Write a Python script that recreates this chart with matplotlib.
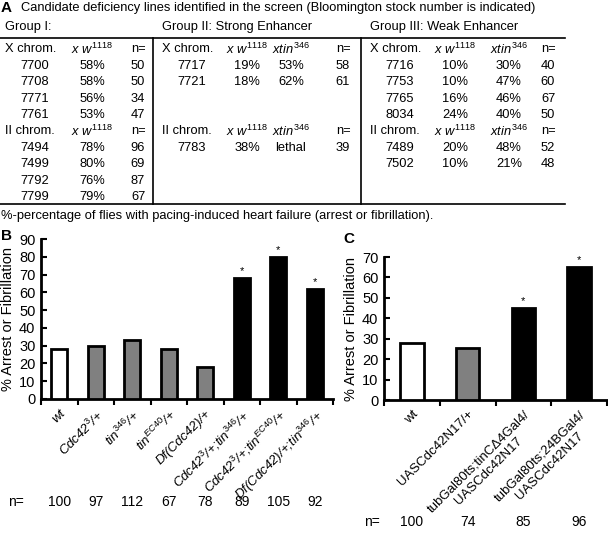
import matplotlib
matplotlib.use('Agg')
import matplotlib.pyplot as plt
import numpy as np

plt.rcParams['font.family'] = ['Liberation Sans', 'DejaVu Sans']
plt.rcParams['mathtext.fontset'] = 'custom'
plt.rcParams['mathtext.rm'] = 'Liberation Sans'
plt.rcParams['mathtext.it'] = 'Liberation Sans:italic'
plt.rcParams['mathtext.default'] = 'it'

W, H = 608, 534

# Table A data
g1_x_stock = ['7700', '7708', '7771', '7761']
g1_x_w = ['58%', '58%', '56%', '53%']
g1_x_n = ['50', '50', '34', '47']
g1_ii_stock = ['7494', '7499', '7792', '7799']
g1_ii_w = ['78%', '80%', '76%', '79%']
g1_ii_n = ['96', '69', '87', '67']

g2_x_stock = ['7717', '7721']
g2_x_w = ['19%', '18%']
g2_x_tin = ['53%', '62%']
g2_x_n = ['58', '61']
g2_ii_stock = ['7783']
g2_ii_w = ['38%']
g2_ii_tin = ['lethal']
g2_ii_n = ['39']

g3_x_stock = ['7716', '7753', '7765', '8034']
g3_x_w = ['10%', '10%', '16%', '24%']
g3_x_tin = ['30%', '47%', '46%', '40%']
g3_x_n = ['40', '60', '67', '50']
g3_ii_stock = ['7489', '7502']
g3_ii_w = ['20%', '10%']
g3_ii_tin = ['48%', '21%']
g3_ii_n = ['52', '48']

# Panel B data
b_labels = ['wt', 'Cdc42$^3$/+', 'tin$^{346}$/+', 'tin$^{EC40}$/+', 'Df(Cdc42)/+',
            'Cdc42$^3$/+;tin$^{346}$/+', 'Cdc42$^3$/+;tin$^{EC40}$/+', 'Df(Cdc42)/+;tin$^{346}$/+']
b_values = [28, 30, 33, 28, 18, 68, 80, 62]
b_colors = ['white', 'gray', 'gray', 'gray', 'gray', 'black', 'black', 'black']
b_signif = [False, False, False, False, False, True, True, True]
b_n = [100, 97, 112, 67, 78, 89, 105, 92]

# Panel C data
c_labels = ['wt', 'UASCdc42N17/+', 'tubGal80ts;tinC\u03944Gal4/\nUASCdc42N17',
            'tubGal80ts;24BGal4/\nUASCdc42N17']
c_values = [28, 25.5, 45, 65]
c_colors = ['white', 'gray', 'black', 'black']
c_signif = [False, False, True, True]
c_n = [100, 74, 85, 96]

fig = plt.figure(figsize=(W / 100, H / 100), dpi=100)

# overlay in pixel coordinates for the table and free text
ov = fig.add_axes([0, 0, 1, 1])
ov.set_xlim(0, W)
ov.set_ylim(H, 0)
ov.axis('off')

fs = 9.3
ov.text(1, 8, 'A', fontsize=11, fontweight='bold', va='center')
ov.text(21, 8, 'Candidate deficiency lines identified in the screen (Bloomington stock number is indicated)',
        fontsize=fs, va='center')
ov.text(5, 27, 'Group I:', fontsize=fs, va='center')
ov.text(162, 27, 'Group II: Strong Enhancer', fontsize=fs, va='center')
ov.text(370, 27, 'Group III: Weak Enhancer', fontsize=fs, va='center')

lw = 1.2
ov.plot([0, 565], [38, 38], color='black', lw=lw)
ov.plot([0, 565], [204, 204], color='black', lw=lw)
ov.plot([153, 153], [38, 204], color='black', lw=lw)
ov.plot([361, 361], [38, 204], color='black', lw=lw)

wlab = r'$x\ w^{1118}$'
tlab = r'$xtin^{346}$'
y_hx, y_x0, dy, y_hii, y_ii0 = 49, 66, 16.4, 131, 148


def block(xl, xs, xw, xt, xn, head, y_head, y0, stock, wv, tinv, nv):
    ov.text(xl, y_head, head, fontsize=fs, va='center')
    ov.text(xw, y_head, wlab, fontsize=fs, va='center', ha='center')
    if xt is not None:
        ov.text(xt, y_head, tlab, fontsize=fs, va='center', ha='center')
    ov.text(xn, y_head, 'n=', fontsize=fs, va='center', ha='center')
    for i in range(len(stock)):
        y = y0 + i * dy
        ov.text(xs, y, stock[i], fontsize=fs, va='center', ha='center')
        ov.text(xw, y, wv[i], fontsize=fs, va='center', ha='center')
        if xt is not None:
            ov.text(xt, y, tinv[i], fontsize=fs, va='center', ha='center')
        ov.text(xn, y, nv[i], fontsize=fs, va='center', ha='center')


block(5, 35, 92, None, 138, 'X chrom.', y_hx, y_x0, g1_x_stock, g1_x_w, None, g1_x_n)
block(5, 35, 92, None, 138, 'II chrom.', y_hii, y_ii0, g1_ii_stock, g1_ii_w, None, g1_ii_n)
block(162, 192, 247, 291, 343, 'X chrom.', y_hx, y_x0, g2_x_stock, g2_x_w, g2_x_tin, g2_x_n)
block(162, 192, 247, 291, 343, 'II chrom.', y_hii, y_ii0, g2_ii_stock, g2_ii_w, g2_ii_tin, g2_ii_n)
block(370, 400, 455, 509, 548, 'X chrom.', y_hx, y_x0, g3_x_stock, g3_x_w, g3_x_tin, g3_x_n)
block(370, 400, 455, 509, 548, 'II chrom.', y_hii, y_ii0, g3_ii_stock, g3_ii_w, g3_ii_tin, g3_ii_n)

ov.text(1, 216, '%-percentage of flies with pacing-induced heart failure (arrest or fibrillation).',
        fontsize=fs, va='center')


def px_axes(left, right, top, bottom):
    return fig.add_axes([left / W, 1 - bottom / H, (right - left) / W, (bottom - top) / H])


def bar_panel(ax, labels, values, colors, signif, ymax, italic, bw):
    x = np.arange(len(values))
    ax.bar(x, values, width=bw, color=colors, edgecolor='black', linewidth=2, zorder=3)
    for xi, v, s in zip(x, values, signif):
        if s:
            ax.text(xi, v + ymax * 0.012, '*', ha='center', va='bottom', fontsize=8)
    ax.set_xlim(-0.5, len(values) - 0.5)
    ax.set_ylim(0, ymax)
    ax.set_yticks(np.arange(0, ymax + 1, 10))
    ax.tick_params(axis='y', direction='in', length=4, width=1.5, labelsize=10.5, pad=4)
    ax.set_xticks(x)
    ax.set_xticks(np.arange(-0.5, len(values), 1), minor=True)
    ax.tick_params(axis='x', which='major', length=0, pad=6)
    ax.tick_params(axis='x', which='minor', direction='out', length=4, width=1.5)
    ax.set_xticklabels(labels, rotation=45, ha='right', rotation_mode='anchor', fontsize=9.5,
                       style='italic' if italic else 'normal', multialignment='center')
    for sp in ['top', 'right']:
        ax.spines[sp].set_visible(False)
    for sp in ['left', 'bottom']:
        ax.spines[sp].set_linewidth(2)
    ax.set_ylabel('% Arrest or Fibrillation', fontsize=10.5, labelpad=3)
    ax.set_facecolor('none')


axB = px_axes(41, 333, 239, 399)
bar_panel(axB, b_labels, b_values, b_colors, b_signif, 90, True, 0.45)
axC = px_axes(384, 607, 257, 400)
bar_panel(axC, c_labels, c_values, c_colors, c_signif, 70, False, 0.42)

ov.text(1, 236, 'B', fontsize=11, fontweight='bold', va='center')
ov.text(343, 239, 'C', fontsize=11, fontweight='bold', va='center')

# n= rows
ov.text(8, 502, 'n=', fontsize=10, va='center')
for i, n in enumerate(b_n):
    xp = axB.transData.transform((i, 0))[0]
    ov.text(xp, 502, str(n), fontsize=10, va='center', ha='center')
ov.text(364, 522, 'n=', fontsize=10, va='center')
for i, n in enumerate(c_n):
    xp = axC.transData.transform((i, 0))[0]
    ov.text(xp, 522, str(n), fontsize=10, va='center', ha='center')

fig.savefig('out.png', dpi=100)
